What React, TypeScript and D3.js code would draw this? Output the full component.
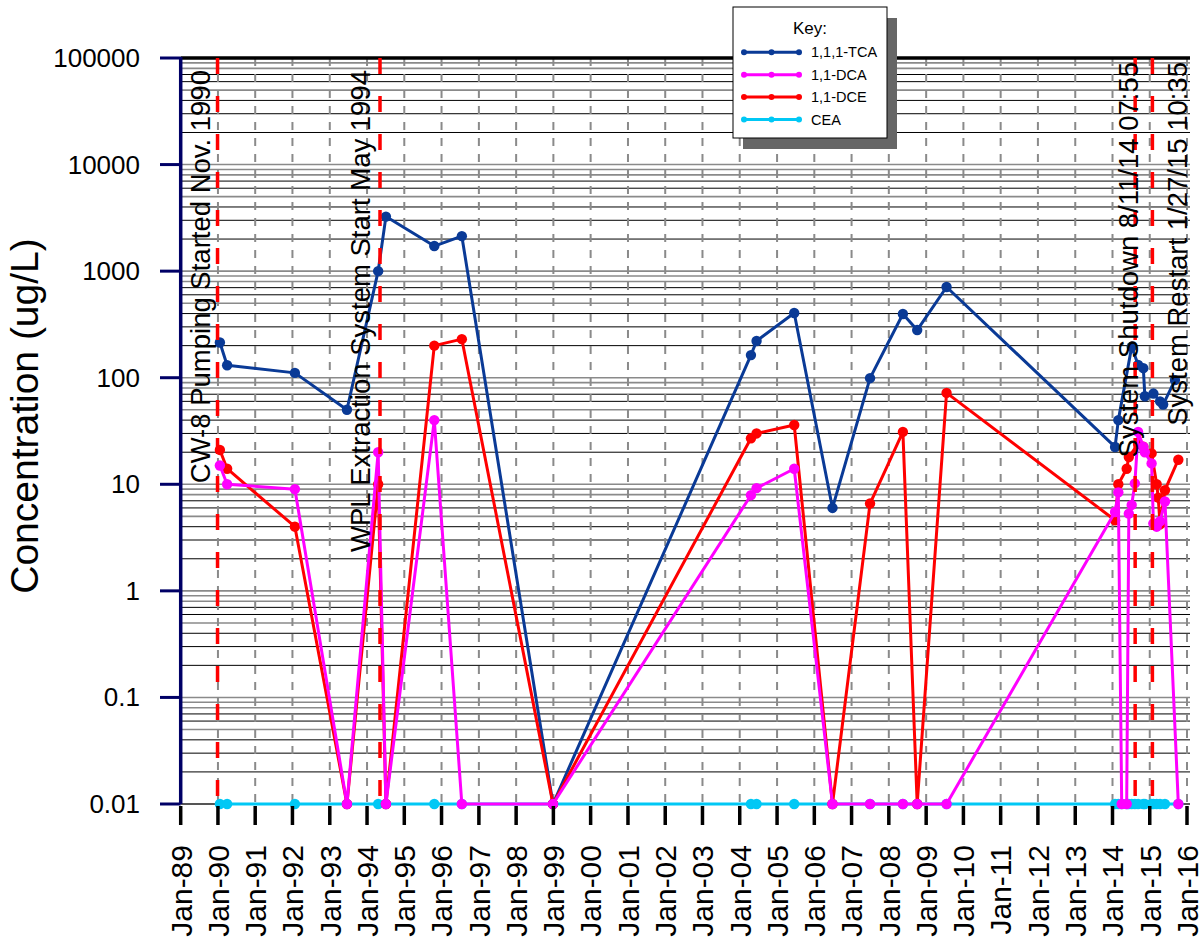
import React from "react";
import * as d3 from "d3";

// ---------- data ----------
const tcaDates = ["1990-01-20","1990-04-01","1992-01-25","1993-06-18","1994-04-20","1994-07-05","1995-10-22","1996-07-18","1998-12-28","2004-04-20","2004-06-14","2005-06-18","2006-06-28","2007-07-01","2008-05-18","2008-10-05","2009-07-20","2014-01-26","2014-02-27","2014-07-08","2014-09-09","2014-10-30","2014-11-14","2015-02-06","2015-04-12","2015-05-12","2015-09-05"];
const tcaValues = [214,131,111,50,1000,3250,1720,2130,0.01,163,221,405,6,99,396,280,710,22.4,40,195,132,123,67,71,60,56,95];

const dceDates = ["1990-01-20","1990-04-01","1992-01-25","1993-06-18","1994-04-20","1994-07-05","1995-10-22","1996-07-18","1998-12-28","2004-04-20","2004-06-14","2005-06-18","2006-06-28","2007-07-01","2008-05-18","2008-10-05","2009-07-20","2014-01-26","2014-02-27","2014-05-20","2014-06-10","2014-09-09","2014-10-30","2015-01-19","2015-03-10","2015-03-25","2015-04-12","2015-05-30","2015-10-08"];
const dceValues = [21,14,4,0.01,10,0.01,200,230,0.01,27,30,36,0.01,6.6,31,0.01,72,4.6,10,14,18,24,22.5,19.5,10,7.5,4.2,8.8,17];

const dcaDates = ["1990-01-20","1990-04-01","1992-01-25","1993-06-18","1994-04-20","1994-07-05","1995-10-22","1996-07-18","1998-12-28","2004-04-20","2004-06-14","2005-06-18","2006-06-28","2007-07-01","2008-05-18","2008-10-05","2009-07-20","2014-01-26","2014-02-27","2014-04-01","2014-05-20","2014-06-10","2014-07-08","2014-08-08","2014-09-09","2014-10-30","2014-11-14","2015-01-19","2015-02-06","2015-03-10","2015-04-12","2015-05-30","2015-10-08"];
const dcaValues = [15,10,9,0.01,20,0.01,40,0.01,0.01,7.9,9.2,14,0.01,0.01,0.01,0.01,0.01,5.5,8.4,0.01,0.01,5.3,6.4,10.2,31,22.5,20,15.7,4.3,4.0,4.5,6.9,0.01];

const ceaDates = ["1990-01-20","1990-04-01","1992-01-25","1993-06-18","1994-04-20","1994-07-05","1995-10-22","1996-07-18","1998-12-28","2004-04-20","2004-06-14","2005-06-18","2006-06-28","2007-07-01","2008-05-18","2008-10-05","2009-07-20","2014-01-26","2014-02-27","2014-04-01","2014-05-20","2014-06-10","2014-07-08","2014-08-08","2014-09-09","2014-10-30","2014-11-14","2015-01-19","2015-02-06","2015-03-10","2015-04-12","2015-05-30","2015-10-08"];
const ceaValues = ceaDates.map(() => 0.01);

const seriesNames = ["1,1,1-TCA", "1,1-DCA", "1,1-DCE", "CEA"];
const seriesColors = ["#0a3a96", "#ff00ff", "#ff0000", "#00c8f5"];

const eventDates = ["1989-12-28", "1994-05-08", "2014-08-11", "2015-01-27"];
const eventLabels = [
  "CW-8 Pumping Started Nov. 1990",
  "WPL Extraction System Start May 1994",
  "System Shutdown 8/11/14 07:55",
  "System Restart 1/27/15 10:35",
];

const yTickValues = [100000, 10000, 1000, 100, 10, 1, 0.1, 0.01];
const yTickLabels = ["100000", "10000", "1000", "100", "10", "1", "0.1", "0.01"];

// ---------- layout ----------
const W = 1202, H = 942;
const L = 180.7, R = 1190, T = 58, B = 804;
const labelDx = [-8, -10, 2.5, 35];
const labelTop = [70, 70, 62, 62];
const FONT = "'Liberation Sans', Arial, Helvetica, sans-serif";

const parse = d3.timeParse("%Y-%m-%d");

export default function App() {
  const x = d3.scaleTime()
    .domain([new Date(1989, 0, 1), new Date(2016, 0, 1)])
    .range([L, 1187]);
  const y = d3.scaleLog().domain([0.01, 100000]).range([B, T]);

  const mk = (dates: string[], vals: number[]) =>
    dates.map((d, i) => ({ date: parse(d) as Date, value: vals[i] }));

  const series = [
    { name: seriesNames[0], color: seriesColors[0], data: mk(tcaDates, tcaValues) },
    { name: seriesNames[1], color: seriesColors[1], data: mk(dcaDates, dcaValues) },
    { name: seriesNames[2], color: seriesColors[2], data: mk(dceDates, dceValues) },
    { name: seriesNames[3], color: seriesColors[3], data: mk(ceaDates, ceaValues) },
  ];
  // draw order: CEA, TCA, DCE, DCA
  const drawOrder = [3, 0, 2, 1];

  const line = d3.line<{ date: Date; value: number }>()
    .x((d) => x(d.date))
    .y((d) => y(d.value));

  // horizontal grid
  const hGrid: { v: number; k: number }[] = [];
  for (let n = -2; n <= 4; n++) {
    for (let k = 1; k <= 9; k++) hGrid.push({ v: k * Math.pow(10, n), k });
  }
  const blackK = new Set([2, 3, 4, 6, 7]);

  const years = d3.timeYear.range(new Date(1989, 0, 1), new Date(2016, 0, 2));

  return (
    <svg width={W} height={H} style={{ position: "absolute", left: 0, top: 0, background: "#fff" }} fontFamily={FONT}>
      <rect x={0} y={0} width={W} height={H} fill="#fff" />
      {/* horizontal grid */}
      {hGrid.map((g, i) => (
        <line key={"h" + i} x1={L} x2={R} y1={y(g.v)} y2={y(g.v)}
          stroke={blackK.has(g.k) ? "#000" : "#8a8a8a"}
          strokeWidth={blackK.has(g.k) ? 1 : 1.6} />
      ))}
      {/* vertical dashed grid */}
      {years.slice(1).map((d, i) => (
        <line key={"v" + i} x1={x(d)} x2={x(d)} y1={T} y2={B}
          stroke="#8a8a8a" strokeWidth={2} strokeDasharray="8,8" />
      ))}
      {/* bottom axis line */}
      <line x1={L} x2={R} y1={B} y2={B} stroke="#555" strokeWidth={2} />
      {/* top border */}
      <line x1={L} x2={R} y1={T} y2={T} stroke="#000" strokeWidth={3.5} />

      {/* data */}
      {drawOrder.map((si) => {
        const s = series[si];
        return (
          <g key={s.name}>
            <path d={line(s.data) || ""} fill="none" stroke={s.color} strokeWidth={3} strokeLinejoin="round" />
            {s.data.map((d, j) => (
              <circle key={j} cx={x(d.date)} cy={y(d.value)} r={5.2} fill={s.color} />
            ))}
          </g>
        );
      })}

      {/* event lines */}
      {eventDates.map((d, i) => {
        const xx = x(parse(d) as Date);
        return (
          <line key={"e" + i} x1={xx} x2={xx} y1={T} y2={B}
            stroke="#ff0000" strokeWidth={3.5} strokeDasharray="16,22" />
        );
      })}
      {/* event labels */}
      {eventDates.map((d, i) => {
        const xx = x(parse(d) as Date) + labelDx[i];
        const yy = labelTop[i];
        return (
          <text key={"el" + i} x={0} y={0} transform={`translate(${xx},${yy}) rotate(-90)`}
            textAnchor="end" fontSize={27.5} fill="#000">{eventLabels[i]}</text>
        );
      })}

      {/* left axis */}
      <line x1={L} x2={L} y1={T - 1} y2={B} stroke="#000066" strokeWidth={3.5} />
      {yTickValues.map((v, i) => (
        <g key={"yt" + i}>
          <line x1={160} x2={L} y1={y(v)} y2={y(v)} stroke="#000066" strokeWidth={3} />
          <text x={140} y={y(v)} textAnchor="end" dominantBaseline="central" fontSize={26} fill="#000">
            {yTickLabels[i]}
          </text>
        </g>
      ))}
      {/* x ticks */}
      {years.map((d, i) => (
        <g key={"xt" + i}>
          <line x1={x(d)} x2={x(d)} y1={B + 2} y2={B + 21} stroke="#000" strokeWidth={3.5} />
          <text x={0} y={0} transform={`translate(${x(d)},${B + 41}) rotate(-90)`}
            textAnchor="end" dy="0.36em" fontSize={30} fill="#000">
            {d3.timeFormat("Jan-%y")(d)}
          </text>
        </g>
      ))}
      {/* y title */}
      <text x={0} y={0} transform={`translate(38,416) rotate(-90)`} textAnchor="middle" fontSize={39} fill="#000">
        Concentration (ug/L)
      </text>

      {/* legend */}
      <rect x={743} y={18} width={154} height={131} fill="#666" />
      <rect x={733} y={7} width={154} height={131} fill="#fff" stroke="#000" strokeWidth={1} />
      <text x={810} y={34} textAnchor="middle" fontSize={17} fill="#000">Key:</text>
      {seriesNames.map((n, i) => {
        const cy = 52.3 + i * 22.4;
        return (
          <g key={"lg" + i}>
            <line x1={744} x2={799} y1={cy} y2={cy} stroke={seriesColors[i]} strokeWidth={3} />
            {[744, 771.5, 799].map((cx, j) => (
              <circle key={j} cx={cx} cy={cy} r={3} fill={seriesColors[i]} />
            ))}
            <text x={811} y={cy + 5} fontSize={14.5} fill="#000">{n}</text>
          </g>
        );
      })}
    </svg>
  );
}
